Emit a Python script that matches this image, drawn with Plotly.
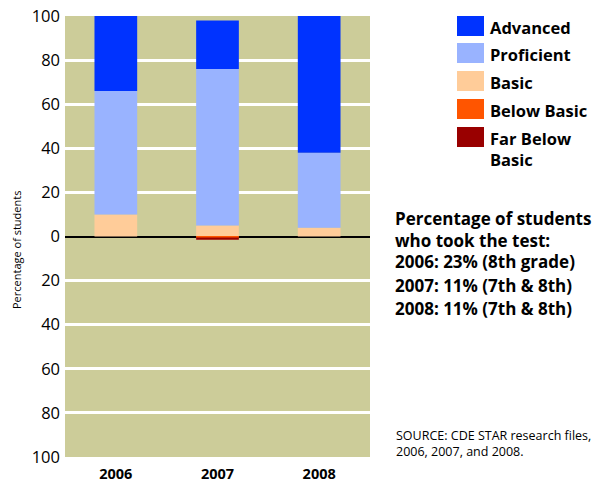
import plotly.graph_objects as go

years = ["2006", "2007", "2008"]
advanced = [34, 22, 62]
proficient = [56, 71, 34]
basic = [10, 5, 4]
below_basic = [0, -0.5, 0]
far_below_basic = [0, -1.0, 0]

series_names = ["Advanced", "Proficient", "Basic", "Below Basic", "Far Below<br>Basic"]
series_colors = ["#0033FF", "#99B3FF", "#FFCC99", "#FF5500", "#990000"]

tick_vals = [-100, -80, -60, -40, -20, 0, 20, 40, 60, 80, 100]
tick_text = ["100", "80", "60", "40", "20", "0", "20", "40", "60", "80", "100"]

side_lines = ["Percentage of students<br>who took the test:",
              "2006: 23% (8th grade)",
              "2007: 11% (7th & 8th)",
              "2008: 11% (7th & 8th)"]
source_text = "SOURCE: CDE STAR research files,<br>2006, 2007, and 2008."
y_title = "Percentage of students"

FONT = "Open Sans"
W, H = 597, 481
L, R, T, B = 65, 227, 16, 24
PW, PH = W - L - R, H - T - B


def px(x):
    return (x - L) / PW


def py(y):
    return (H - B - y) / PH


fig = go.Figure()
stack = [("Basic", basic, series_colors[2]),
         ("Proficient", proficient, series_colors[1]),
         ("Advanced", advanced, series_colors[0]),
         ("Below Basic", below_basic, series_colors[3]),
         ("Far Below Basic", far_below_basic, series_colors[4])]
for name, vals, col in stack:
    fig.add_trace(go.Bar(x=years, y=vals, name=name, marker=dict(color=col, line=dict(width=0)),
                         width=0.42, showlegend=False, cliponaxis=False))

fig.update_layout(
    width=W, height=H,
    margin=dict(l=L, r=R, t=T, b=B, autoexpand=False),
    barmode="relative",
    paper_bgcolor="white",
    plot_bgcolor="#CCCC99",
    font=dict(family=FONT, color="black"),
    xaxis=dict(type="category", range=[-0.5, 2.5], showgrid=False, zeroline=False,
               automargin=False, ticklabelstandoff=6,
               tickfont=dict(size=14.5, family=FONT), ticks="",
               tickvals=years, ticktext=["<b>%s</b>" % y for y in years]),
    yaxis=dict(range=[-100, 100], tickvals=tick_vals, ticktext=tick_text,
               automargin=False, ticklabelstandoff=4,
               tickfont=dict(size=16.5, family=FONT), ticks="",
               showgrid=True, gridcolor="white", gridwidth=3,
               zeroline=True, zerolinecolor="black", zerolinewidth=2),
)

fig.add_annotation(xref="paper", yref="paper", x=px(17), y=py(250), text=y_title,
                   textangle=-90, showarrow=False, xanchor="center", yanchor="middle",
                   font=dict(size=11, family=FONT))

# manual legend
leg_y = [26, 53, 81, 109, 137]
for name, col, yc in zip(series_names, series_colors, leg_y):
    fig.add_shape(type="rect", xref="paper", yref="paper",
                  x0=px(457), x1=px(484), y0=py(yc + 10), y1=py(yc - 10),
                  fillcolor=col, line=dict(width=0))
    fig.add_annotation(xref="paper", yref="paper", x=px(488),
                       y=py(yc - 12), text="<b>%s</b>" % name,
                       showarrow=False, xanchor="left", yanchor="top", align="left",
                       font=dict(size=16.5, family=FONT))

# side text
side_y = [205, 261, 285, 309]
side_anchor = ["top", "middle", "middle", "middle"]
for txt, yt, ya in zip(side_lines, side_y, side_anchor):
    fig.add_annotation(xref="paper", yref="paper", x=px(393),
                       y=py(yt), text="<b>%s</b>" % txt, showarrow=False,
                       xanchor="left", yanchor=ya, align="left",
                       font=dict(size=17, family=FONT))
fig.add_annotation(xref="paper", yref="paper", x=px(394),
                   y=py(425), text=source_text, showarrow=False,
                   xanchor="left", yanchor="top", align="left",
                   font=dict(size=12.5, family=FONT))

fig.write_html("out.html", config={"displayModeBar": False},
               post_script="document.body.style.margin='0';")
